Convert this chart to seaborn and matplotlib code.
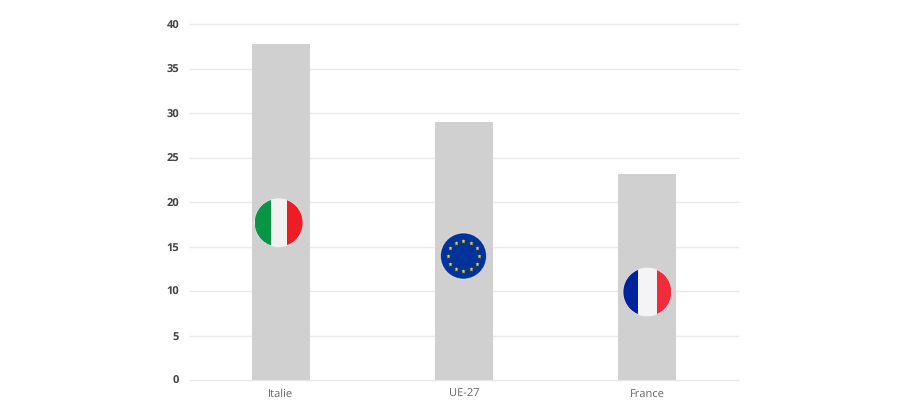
import numpy as np
import pandas as pd
import matplotlib
matplotlib.use("Agg")
import matplotlib.pyplot as plt
import seaborn as sns
from matplotlib.lines import Line2D
from matplotlib.offsetbox import AnnotationBbox, DrawingArea
from matplotlib.patches import Circle, Rectangle

# Bar heights and the height where each round flag sits
categories = ["Italie", "UE-27", "France"]
values = [37.8, 29.0, 23.2]
flag_values = [17.7, 13.95, 9.9]
flag_offsets = [-2, -0.5, 0]
y_ticks = [0, 5, 10, 15, 20, 25, 30, 35, 40]

DPI = 100
PT = 72 / DPI  # one pixel in points, DrawingArea works in points
HALO = (1, 1, 1, 0.45)


def tricolor(colors, cuts, radius_px):
    # vertical stripes clipped to a circle, cuts are pixel edges from the left
    r = radius_px * PT
    da = DrawingArea(2 * r, 2 * r, 0, 0)
    disc = Circle((r, r), r, facecolor=colors[1], edgecolor=HALO, linewidth=0.8)
    da.add_artist(disc)
    edges = [0, cuts[0] * PT, cuts[1] * PT, 2 * r]
    for i, col in enumerate(colors):
        stripe = Rectangle((edges[i], 0), edges[i + 1] - edges[i], 2 * r, facecolor=col, edgecolor="none")
        da.add_artist(stripe)
        stripe.set_clip_path(disc)
    return da


def eu_flag(radius_px):
    r = radius_px * PT
    da = DrawingArea(2 * r, 2 * r, 0, 0)
    da.add_artist(Circle((r, r), r, facecolor="#003399", edgecolor=HALO, linewidth=0.8))
    ring = 15.3 * PT
    for a in np.deg2rad(np.arange(0, 360, 30)):
        star = Line2D([r + ring * np.sin(a)], [r + ring * np.cos(a)], marker="*", markersize=3.6,
                      markerfacecolor="#ffcc00", markeredgecolor="none", linestyle="none")
        da.add_artist(star)
    return da


df = pd.DataFrame({"pays": categories, "valeur": values})

sns.set_theme(style="white")
plt.rcParams["font.family"] = ["Open Sans", "DejaVu Sans"]
plt.rcParams["text.hinting"] = "no_hinting"

fig = plt.figure(figsize=(9.1, 4.2), dpi=DPI, facecolor="white")
# axes box in pixels: x 189 to 739, y 24.5 to 380
ax = fig.add_axes([189 / 910, 1 - 380 / 420, 550 / 910, 355.5 / 420])

sns.barplot(data=df, x="pays", y="valeur", color="#d0d0d0", saturation=1, width=0.317,
            linewidth=0, edgecolor="none", ax=ax, zorder=2)

ax.set_xlim(-0.5, 2.5)
ax.set_ylim(0, 40)
ax.set_yticks(y_ticks)
ax.set_xlabel("")
ax.set_ylabel("")
ax.grid(axis="y", color="#e8e8e8", linewidth=1.0, zorder=0)
for line in ax.get_ygridlines():
    line.set_clip_on(False)  # the lines at 0 and 40 sit on the axes edge
    line.set_solid_capstyle("butt")
ax.set_axisbelow(True)
sns.despine(ax=ax, left=True, bottom=True)
ax.tick_params(axis="both", length=0)
ax.tick_params(axis="x", labelsize=8, labelcolor="#666666", pad=12.4)
ax.tick_params(axis="y", labelsize=8, labelcolor="#444444", pad=7)
for lab in ax.get_xticklabels():
    lab.set_verticalalignment("baseline")  # keeps UE-27 level with the others
for lab in ax.get_yticklabels():
    lab.set_fontweight("bold")

flags = [
    tricolor(["#0a9445", "#f1f1f1", "#f01c24"], [16, 32], 24),
    eu_flag(23),
    tricolor(["#00239c", "#f4f4f6", "#f02b3c"], [14.5, 33.5], 24),
]
for i, flag in enumerate(flags):
    ab = AnnotationBbox(flag, (i, flag_values[i]), xybox=(flag_offsets[i] * PT, 0), xycoords="data",
                        boxcoords="offset points", frameon=False, pad=0, box_alignment=(0.5, 0.5), zorder=4)
    ax.add_artist(ab)

fig.savefig("out.png", dpi=DPI)
